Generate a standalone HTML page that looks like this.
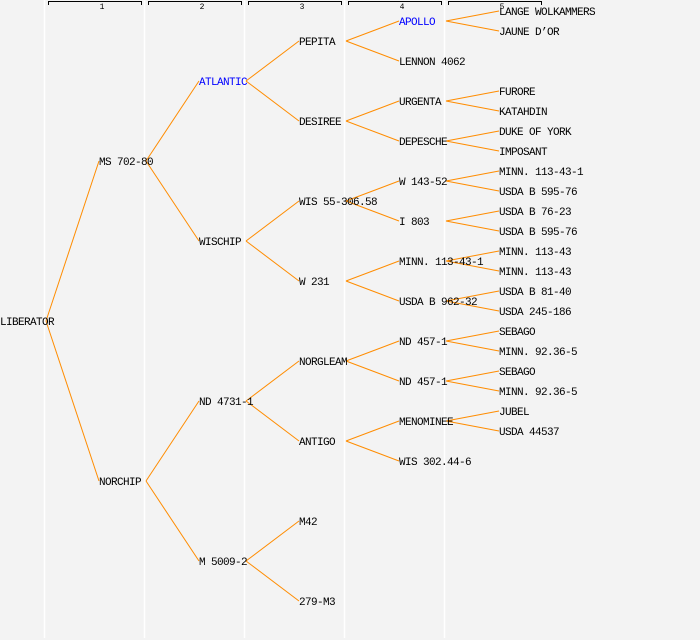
<!DOCTYPE html>
<html><head><meta charset="utf-8"><style>
html,body{margin:0;padding:0;background:#f3f3f3;}
svg{display:block;}
text{font-family:"Liberation Mono","DejaVu Sans Mono",monospace;font-size:11px;letter-spacing:-0.6px;fill:#000;}
.h{font-size:8px;letter-spacing:0;}
</style></head><body>
<svg width="700" height="640" xmlns="http://www.w3.org/2000/svg">
<rect width="700" height="640" fill="#f3f3f3"/>
<g stroke="#ffffff" stroke-width="1.5">
<line x1="44.5" y1="0" x2="44.5" y2="638"/>
<line x1="144.5" y1="0" x2="144.5" y2="638"/>
<line x1="244.5" y1="0" x2="244.5" y2="638"/>
<line x1="344.5" y1="0" x2="344.5" y2="638"/>
<line x1="444.5" y1="0" x2="444.5" y2="638"/>
</g>
<g stroke="#000" stroke-width="1" fill="none">
<path d="M48.5,5 V1.5 H141.5 V5"/>
<path d="M148.5,5 V1.5 H241.5 V5"/>
<path d="M248.5,5 V1.5 H341.5 V5"/>
<path d="M348.5,5 V1.5 H441.5 V5"/>
<path d="M448.5,5 V1.5 H541.5 V5"/>
</g>
<text class="h" x="102" y="9" text-anchor="middle">1</text>
<text class="h" x="202" y="9" text-anchor="middle">2</text>
<text class="h" x="302" y="9" text-anchor="middle">3</text>
<text class="h" x="402" y="9" text-anchor="middle">4</text>
<text class="h" x="502" y="9" text-anchor="middle">5</text>
<g stroke="#ff8c00" stroke-width="1" fill="none">
<line x1="46" y1="321" x2="99" y2="161"/><line x1="46" y1="321" x2="99" y2="481"/>
<line x1="146" y1="161" x2="199" y2="81"/><line x1="146" y1="161" x2="199" y2="241"/>
<line x1="146" y1="481" x2="199" y2="401"/><line x1="146" y1="481" x2="199" y2="561"/>
<line x1="246" y1="81" x2="299" y2="41"/><line x1="246" y1="81" x2="299" y2="121"/>
<line x1="246" y1="241" x2="299" y2="201"/><line x1="246" y1="241" x2="299" y2="281"/>
<line x1="246" y1="401" x2="299" y2="361"/><line x1="246" y1="401" x2="299" y2="441"/>
<line x1="246" y1="561" x2="299" y2="521"/><line x1="246" y1="561" x2="299" y2="601"/>
<line x1="346" y1="41" x2="399" y2="21"/><line x1="346" y1="41" x2="399" y2="61"/>
<line x1="346" y1="121" x2="399" y2="101"/><line x1="346" y1="121" x2="399" y2="141"/>
<line x1="346" y1="201" x2="399" y2="181"/><line x1="346" y1="201" x2="399" y2="221"/>
<line x1="346" y1="281" x2="399" y2="261"/><line x1="346" y1="281" x2="399" y2="301"/>
<line x1="346" y1="361" x2="399" y2="341"/><line x1="346" y1="361" x2="399" y2="381"/>
<line x1="346" y1="441" x2="399" y2="421"/><line x1="346" y1="441" x2="399" y2="461"/>
<line x1="446" y1="21" x2="499" y2="11"/><line x1="446" y1="21" x2="499" y2="31"/>
<line x1="446" y1="101" x2="499" y2="91"/><line x1="446" y1="101" x2="499" y2="111"/>
<line x1="446" y1="141" x2="499" y2="131"/><line x1="446" y1="141" x2="499" y2="151"/>
<line x1="446" y1="181" x2="499" y2="171"/><line x1="446" y1="181" x2="499" y2="191"/>
<line x1="446" y1="221" x2="499" y2="211"/><line x1="446" y1="221" x2="499" y2="231"/>
<line x1="446" y1="261" x2="499" y2="251"/><line x1="446" y1="261" x2="499" y2="271"/>
<line x1="446" y1="301" x2="499" y2="291"/><line x1="446" y1="301" x2="499" y2="311"/>
<line x1="446" y1="341" x2="499" y2="331"/><line x1="446" y1="341" x2="499" y2="351"/>
<line x1="446" y1="381" x2="499" y2="371"/><line x1="446" y1="381" x2="499" y2="391"/>
<line x1="446" y1="421" x2="499" y2="411"/><line x1="446" y1="421" x2="499" y2="431"/>
</g>
<g>
<text x="0" y="325">LIBERATOR</text>
<text x="99" y="165">MS 702-80</text>
<text x="99" y="485">NORCHIP</text>
<text x="199" y="85" style="fill:#0000ff">ATLANTIC</text>
<text x="199" y="245">WISCHIP</text>
<text x="199" y="405">ND 4731-1</text>
<text x="199" y="565">M 5009-2</text>
<text x="299" y="45">PEPITA</text>
<text x="299" y="125">DESIREE</text>
<text x="299" y="205">WIS 55-306.58</text>
<text x="299" y="285">W 231</text>
<text x="299" y="365">NORGLEAM</text>
<text x="299" y="445">ANTIGO</text>
<text x="299" y="525">M42</text>
<text x="299" y="605">279-M3</text>
<text x="399" y="25" style="fill:#0000ff">APOLLO</text>
<text x="399" y="65">LENNON 4062</text>
<text x="399" y="105">URGENTA</text>
<text x="399" y="145">DEPESCHE</text>
<text x="399" y="185">W 143-52</text>
<text x="399" y="225">I 803</text>
<text x="399" y="265">MINN. 113-43-1</text>
<text x="399" y="305">USDA B 962-32</text>
<text x="399" y="345">ND 457-1</text>
<text x="399" y="385">ND 457-1</text>
<text x="399" y="425">MENOMINEE</text>
<text x="399" y="465">WIS 302.44-6</text>
<text x="499" y="15">LANGE WOLKAMMERS</text>
<text x="499" y="35">JAUNE D’OR</text>
<text x="499" y="95">FURORE</text>
<text x="499" y="115">KATAHDIN</text>
<text x="499" y="135">DUKE OF YORK</text>
<text x="499" y="155">IMPOSANT</text>
<text x="499" y="175">MINN. 113-43-1</text>
<text x="499" y="195">USDA B 595-76</text>
<text x="499" y="215">USDA B 76-23</text>
<text x="499" y="235">USDA B 595-76</text>
<text x="499" y="255">MINN. 113-43</text>
<text x="499" y="275">MINN. 113-43</text>
<text x="499" y="295">USDA B 81-40</text>
<text x="499" y="315">USDA 245-186</text>
<text x="499" y="335">SEBAGO</text>
<text x="499" y="355">MINN. 92.36-5</text>
<text x="499" y="375">SEBAGO</text>
<text x="499" y="395">MINN. 92.36-5</text>
<text x="499" y="415">JUBEL</text>
<text x="499" y="435">USDA 44537</text>
</g>
</svg>
</body></html>
